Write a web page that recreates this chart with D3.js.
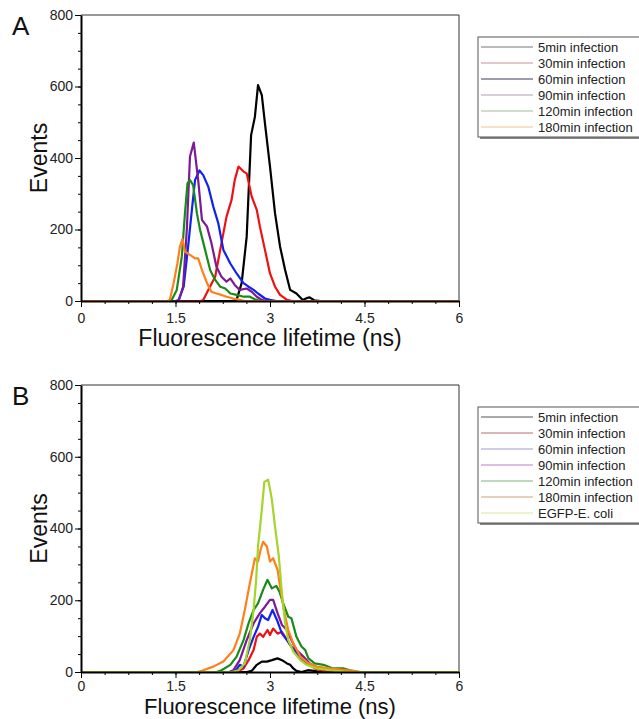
<!DOCTYPE html>
<html>
<head>
<meta charset="utf-8">
<script src="https://cdn.jsdelivr.net/npm/d3@7"></script>
<style>
  body { margin: 0; background: #fff; }
  svg { display: block; font-family: Arial, "Liberation Sans", sans-serif; }
</style>
</head>
<body>
<svg id="chart" width="639" height="719"></svg>
<script>
// --- data: [lifetime (ns), events] ---
const namesA = ['5min infection', '30min infection', '60min infection', '90min infection', '120min infection', '180min infection'];
const namesB = ['5min infection', '30min infection', '60min infection', '90min infection', '120min infection', '180min infection', 'EGFP-E. coli'];

const A_5min = [[0,0],[2.40,0],[2.47,3],[2.55,50],[2.63,180],[2.70,464],[2.76,515],[2.81,604],[2.87,576],[2.92,497],[3.0,376],[3.08,245],[3.16,152],[3.24,87],[3.32,31],[3.42,21],[3.52,3],[3.58,8],[3.63,10],[3.70,2],[3.8,0],[6,0]];
const A_30min = [[0,0],[1.90,0],[1.94,3],[2.02,31],[2.13,68],[2.23,162],[2.31,236],[2.39,283],[2.44,338],[2.50,376],[2.58,362],[2.63,357],[2.71,292],[2.79,255],[2.84,208],[2.92,143],[3.0,77],[3.08,40],[3.16,17],[3.27,3],[3.35,0],[6,0]];
const A_60min = [[0,0],[1.50,0],[1.55,3],[1.63,40],[1.70,152],[1.76,255],[1.81,338],[1.88,365],[1.94,352],[2.02,320],[2.10,264],[2.18,217],[2.26,143],[2.37,105],[2.47,77],[2.58,50],[2.66,40],[2.74,31],[2.81,21],[2.92,7],[3.0,3],[3.1,0],[6,0]];
const A_90min = [[0,0],[1.55,0],[1.62,40],[1.68,200],[1.73,404],[1.79,443],[1.86,338],[1.92,227],[2.0,208],[2.07,162],[2.15,96],[2.23,68],[2.31,54],[2.37,63],[2.44,45],[2.52,31],[2.63,35],[2.71,26],[2.79,12],[2.87,3],[2.95,0],[6,0]];
const A_120min = [[0,0],[1.40,0],[1.44,3],[1.52,31],[1.60,124],[1.65,245],[1.69,329],[1.73,338],[1.78,324],[1.84,245],[1.89,199],[1.97,143],[2.05,87],[2.13,59],[2.21,40],[2.29,35],[2.37,21],[2.47,17],[2.58,12],[2.68,12],[2.76,5],[2.85,0],[6,0]];
const A_180min = [[0,0],[1.37,0],[1.41,3],[1.47,50],[1.53,105],[1.57,152],[1.61,173],[1.65,138],[1.73,129],[1.81,119],[1.86,119],[1.92,87],[2.0,50],[2.07,26],[2.15,21],[2.23,17],[2.31,12],[2.42,7],[2.52,3],[2.6,0],[6,0]];

const B_5min = [[0,0],[2.55,0],[2.63,0],[2.71,3],[2.79,20],[2.87,29],[2.95,29],[3.03,33],[3.12,38],[3.19,33],[3.27,24],[3.32,20],[3.37,10],[3.42,3],[3.5,0],[3.6,5],[3.7,3],[3.8,0],[6,0]];
const B_30min = [[0,0],[2.40,0],[2.47,0],[2.58,10],[2.66,33],[2.74,61],[2.79,98],[2.84,107],[2.89,98],[2.96,117],[3.0,103],[3.05,121],[3.12,107],[3.19,112],[3.27,89],[3.34,71],[3.42,57],[3.53,38],[3.61,24],[3.71,10],[3.85,3],[3.95,0],[6,0]];
const B_60min = [[0,0],[2.44,0],[2.52,20],[2.58,15],[2.66,61],[2.74,98],[2.81,126],[2.87,159],[2.92,150],[2.97,145],[3.04,173],[3.11,145],[3.19,107],[3.27,89],[3.34,71],[3.42,52],[3.53,33],[3.63,20],[3.79,10],[3.95,5],[4.1,0],[6,0]];
const B_90min = [[0,0],[2.35,0],[2.42,5],[2.52,33],[2.63,89],[2.74,136],[2.84,164],[2.92,182],[3.0,201],[3.05,201],[3.12,164],[3.19,131],[3.27,117],[3.34,89],[3.42,61],[3.53,43],[3.63,24],[3.79,10],[3.95,5],[4.1,0],[6,0]];
const B_120min = [[0,0],[2.15,0],[2.23,5],[2.37,20],[2.47,43],[2.58,89],[2.66,136],[2.74,173],[2.81,191],[2.89,229],[2.96,257],[3.03,233],[3.10,240],[3.15,224],[3.21,191],[3.29,154],[3.34,150],[3.42,98],[3.50,71],[3.56,61],[3.61,38],[3.71,24],[3.85,20],[4.0,10],[4.16,10],[4.27,5],[4.4,0],[6,0]];
const B_180min = [[0,0],[1.85,0],[1.94,5],[2.10,15],[2.26,29],[2.42,61],[2.52,107],[2.60,173],[2.68,247],[2.76,317],[2.81,308],[2.85,340],[2.89,363],[2.95,350],[3.0,308],[3.05,317],[3.12,285],[3.16,238],[3.22,173],[3.29,117],[3.37,80],[3.48,43],[3.61,24],[3.74,15],[3.95,10],[4.16,6],[4.32,3],[4.45,0],[6,0]];
const B_egfp = [[0,0],[2.40,0],[2.50,5],[2.60,24],[2.68,89],[2.74,173],[2.78,257],[2.81,350],[2.87,452],[2.91,530],[2.97,536],[3.0,510],[3.03,480],[3.08,405],[3.14,322],[3.19,219],[3.24,136],[3.29,89],[3.37,57],[3.48,33],[3.58,20],[3.74,10],[4.0,4],[4.2,0],[6,0]];

const xTicks = [0, 1.5, 3, 4.5, 6];
const yTicks = [0, 200, 400, 600, 800];

// --- styles ---
const lineColorsA = ['#000000', '#ee1111', '#1122ee', '#7a1a96', '#1a8a1a', '#ff7f1a'];
const legendColorsA = ['#777777', '#d08a95', '#3a3a5a', '#b59ab8', '#9cbf9c', '#f0c48a'];
const lineColorsB = ['#000000', '#ee1111', '#1122ee', '#7a1a96', '#1a8a1a', '#ff7f1a', '#a6d42a'];
const legendColorsB = ['#555555', '#b86a6a', '#9a9ad0', '#c27ac8', '#7fb07f', '#c9a57c', '#dde69a'];

const svg = d3.select('#chart');
svg.append('rect').attr('width', 639).attr('height', 719).attr('fill', '#fff');

function drawPanel(o) {
  const x = d3.scaleLinear().domain([0, 6]).range([81, 459]);
  const y = d3.scaleLinear().domain([0, 800]).range([o.bottom, o.top]);
  const g = svg.append('g');

  // frame (thin top/right)
  g.append('line').attr('x1', 81).attr('x2', 459).attr('y1', o.top).attr('y2', o.top)
    .attr('stroke', '#333').attr('stroke-width', 1);
  g.append('line').attr('x1', 459).attr('x2', 459).attr('y1', o.top).attr('y2', o.bottom)
    .attr('stroke', '#333').attr('stroke-width', 1);

  // curves
  const line = d3.line().x(d => x(d[0])).y(d => y(d[1]));
  o.series.forEach((s, i) => {
    g.append('path').datum(s)
      .attr('d', line)
      .attr('fill', 'none')
      .attr('stroke', o.colors[i])
      .attr('stroke-width', 2.2)
      .attr('stroke-linejoin', 'round');
  });

  // minor ticks
  g.append('g').attr('transform', `translate(0,${o.bottom})`)
    .call(d3.axisBottom(x).tickValues(d3.range(0, 6.01, 0.375)).tickSize(3).tickSizeOuter(0).tickFormat(''))
    .call(a => a.select('.domain').remove());
  g.append('g').attr('transform', 'translate(81,0)')
    .call(d3.axisLeft(y).tickValues(d3.range(0, 801, 50)).tickSize(3).tickSizeOuter(0).tickFormat(''))
    .call(a => a.select('.domain').remove());

  // major axes
  const xa = g.append('g').attr('transform', `translate(0,${o.bottom})`)
    .call(d3.axisBottom(x).tickValues(xTicks).tickSize(6).tickSizeOuter(0).tickPadding(o.xPad).tickFormat(d3.format('')));
  const ya = g.append('g').attr('transform', 'translate(81,0)')
    .call(d3.axisLeft(y).tickValues(yTicks).tickSize(6).tickSizeOuter(0).tickPadding(2));
  [xa, ya].forEach(a => {
    a.select('.domain').attr('stroke', '#000').attr('stroke-width', 2);
    a.selectAll('text').attr('font-size', 14).attr('fill', '#222').attr('font-family', 'Arial, "Liberation Sans", sans-serif');
  });

  // titles
  g.append('text').attr('x', 270).attr('y', o.bottom + o.titleGap).attr('text-anchor', 'middle')
    .attr('font-size', o.titleSize).attr('fill', '#111').text('Fluorescence lifetime (ns)');
  g.append('text').attr('transform', `translate(47,${(o.top + o.bottom) / 2}) rotate(-90)`)
    .attr('text-anchor', 'middle').attr('font-size', 23).attr('fill', '#111').text('Events');
  g.append('text').attr('x', 12).attr('y', o.top + 20).attr('font-size', 26).attr('fill', '#111').text(o.letter);

  // legend
  const rowH = 16;
  const lh = o.names.length * rowH + 4;
  const lg = g.append('g').attr('transform', `translate(478,${o.legendTop})`);
  lg.append('rect').attr('x', 2).attr('y', 2).attr('width', 180).attr('height', lh).attr('fill', '#888');
  lg.append('rect').attr('x', 0).attr('y', 0).attr('width', 180).attr('height', lh)
    .attr('fill', '#fff').attr('stroke', '#555').attr('stroke-width', 1);
  o.names.forEach((n, i) => {
    const yy = 10 + i * rowH;
    lg.append('line').attr('x1', 3).attr('x2', 55).attr('y1', yy).attr('y2', yy)
      .attr('stroke', o.legendColors[i]).attr('stroke-width', 1);
    lg.append('text').attr('x', 60).attr('y', yy).attr('dy', '0.35em')
      .attr('font-size', 13).attr('fill', '#222').text(n);
  });
}

drawPanel({
  letter: 'A', top: 15, bottom: 301, legendTop: 37, titleGap: 45, titleSize: 23, xPad: 6,
  names: namesA,
  series: [A_5min, A_30min, A_60min, A_90min, A_120min, A_180min],
  colors: lineColorsA, legendColors: legendColorsA
});
drawPanel({
  letter: 'B', top: 385, bottom: 672, legendTop: 407, titleGap: 42, titleSize: 22, xPad: 3,
  names: namesB,
  series: [B_5min, B_30min, B_60min, B_90min, B_120min, B_180min, B_egfp],
  colors: lineColorsB, legendColors: legendColorsB
});
</script>
</body>
</html>
